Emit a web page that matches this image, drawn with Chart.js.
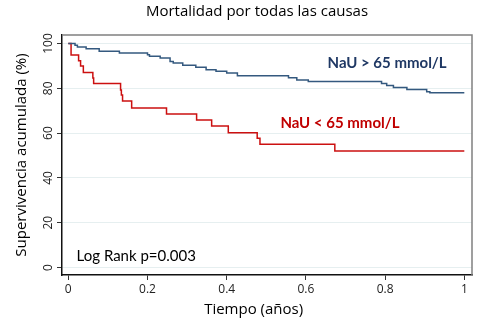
<!DOCTYPE html>
<html>
<head>
<meta charset="utf-8">
<script src="https://cdn.jsdelivr.net/npm/chart.js@4"></script>
<style>
  body { margin: 0; background: #fff; }
</style>
</head>
<body>
<canvas id="kmChart" width="489" height="324"></canvas>
<script>
const xTicks = [0, 0.2, 0.4, 0.6, 0.8, 1];
const yTicks = [0, 20, 40, 60, 80, 100];

// NaU > 65 mmol/L
const highTimes = [0, 0.017, 0.023, 0.045, 0.078, 0.129, 0.200, 0.205, 0.232, 0.257, 0.265, 0.289,
  0.322, 0.348, 0.373, 0.400, 0.427, 0.556, 0.577, 0.606, 0.791, 0.804, 0.821, 0.855, 0.905, 0.913, 1.0];
const highSurv = [100, 99.2, 98.4, 97.7, 96.5, 95.8, 95.0, 94.3, 93.5, 92.0, 91.3, 90.3,
  89.4, 88.3, 87.6, 86.8, 85.6, 84.7, 83.7, 83.0, 82.2, 81.2, 80.4, 79.5, 78.5, 78.0, 78.0];

// NaU < 65 mmol/L
const lowTimes = [0, 0.007, 0.026, 0.031, 0.038, 0.062, 0.064, 0.132, 0.134, 0.137, 0.160,
  0.248, 0.324, 0.362, 0.404, 0.477, 0.484, 0.673, 1.0];
const lowSurv = [100, 94.9, 92.3, 90.0, 87.1, 84.6, 82.2, 79.2, 77.0, 74.3, 71.2,
  68.5, 65.8, 63.2, 60.2, 57.7, 55.0, 52.0, 52.0];

const toPoints = (t, s) => t.map((v, i) => ({x: v, y: s[i]}));

const notes = [
  {text: 'NaU > 65 mmol/L', x: 0.805, y: 91.3, color: '#1f3864', font: 'bold 15px Lato', align: 'center'},
  {text: 'NaU < 65 mmol/L', x: 0.686, y: 64.3, color: '#c00000', font: 'bold 15px Lato', align: 'center'},
  {text: 'Log Rank p=0.003', x: 0.021, y: 5.1, color: '#000000', font: '15px Lato', align: 'left'}
];

// frame, title, x title and text notes
const textLayer = {
  id: 'textLayer',
  afterDraw(chart) {
    const {ctx, chartArea, scales: {x, y}} = chart;
    ctx.save();
    ctx.strokeStyle = '#808080';
    ctx.lineWidth = 1.5;
    ctx.beginPath();
    ctx.moveTo(chartArea.left, chartArea.top);
    ctx.lineTo(chartArea.right, chartArea.top);
    ctx.lineTo(chartArea.right, chartArea.bottom);
    ctx.stroke();

    ctx.fillStyle = '#000';
    ctx.textBaseline = 'middle';
    ctx.textAlign = 'center';
    ctx.font = '15px "Open Sans"';
    ctx.fillText('Mortalidad por todas las causas', 257, 12);
    ctx.fillText('Tiempo (años)', x.getPixelForValue(0.468), 310);

    notes.forEach(n => {
      ctx.font = n.font;
      ctx.fillStyle = n.color;
      ctx.textAlign = n.align;
      ctx.fillText(n.text, x.getPixelForValue(n.x), y.getPixelForValue(n.y));
    });
    ctx.restore();
  }
};

const config = {
  type: 'line',
  data: {
    datasets: [
      {
        label: 'NaU > 65 mmol/L',
        data: toPoints(highTimes, highSurv),
        borderColor: '#34597f',
        borderWidth: 1.5,
        stepped: true,
        pointRadius: 0,
        fill: false
      },
      {
        label: 'NaU < 65 mmol/L',
        data: toPoints(lowTimes, lowSurv),
        borderColor: '#cc1010',
        borderWidth: 1.5,
        stepped: true,
        pointRadius: 0,
        fill: false
      }
    ]
  },
  options: {
    responsive: false,
    animation: false,
    layout: { padding: { top: 35, right: 17, left: 0, bottom: 0 } },
    plugins: {
      legend: { display: false },
      tooltip: { enabled: false },
      title: { display: false }
    },
    scales: {
      x: {
        type: 'linear',
        min: -0.0159,
        max: 1.0194,
        afterBuildTicks: s => { s.ticks = xTicks.map(v => ({value: v})); },
        afterFit: s => { s.height = 49; },
        ticks: {
          callback: v => String(v),
          color: '#222',
          font: { family: 'Open Sans', size: 12 },
          padding: 2,
          maxRotation: 0
        },
        grid: { drawOnChartArea: false, drawTicks: true, tickLength: 5, tickColor: '#333' },
        border: { color: '#111', width: 1.5 }
      },
      y: {
        type: 'linear',
        min: -3.35,
        max: 103.8,
        afterBuildTicks: s => { s.ticks = yTicks.map(v => ({value: v})); },
        afterFit: s => { s.width = 62; },
        ticks: {
          callback: v => String(v),
          color: '#222',
          font: { family: 'Open Sans', size: 12 },
          minRotation: 90,
          maxRotation: 90,
          crossAlign: 'center',
          padding: -2
        },
        grid: { color: '#e6eff0', lineWidth: 1, drawTicks: true, tickLength: 5, tickColor: '#333' },
        border: { color: '#111', width: 1.5 },
        title: {
          display: true,
          text: 'Supervivencia acumulada (%)',
          color: '#000',
          font: { family: 'Open Sans', size: 15 },
          padding: { top: 13, bottom: 0 }
        }
      }
    }
  },
  plugins: [textLayer]
};

const kmChart = new Chart(document.getElementById('kmChart'), config);
</script>
</body>
</html>
